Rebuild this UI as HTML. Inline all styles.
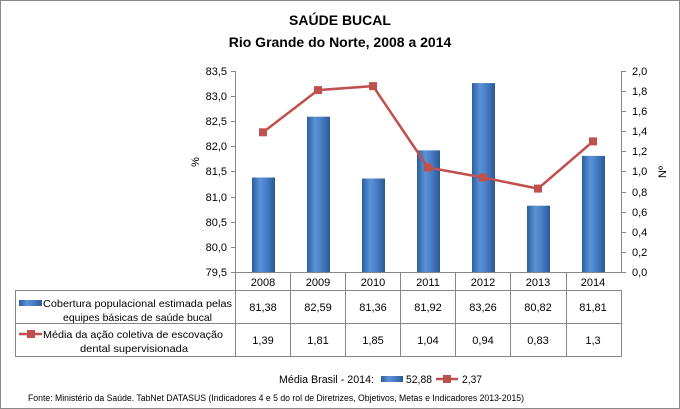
<!DOCTYPE html>
<html><head><meta charset="utf-8"><style>
body{margin:0;background:#fff}
svg{display:block;font-family:"Liberation Sans",sans-serif}
</style></head><body>
<svg width="680" height="409" viewBox="0 0 680 409">
<defs>
<linearGradient id="bg" x1="0" x2="1" y1="0" y2="0">
<stop offset="0" stop-color="#2c5f9e"/><stop offset="0.35" stop-color="#5b91d6"/><stop offset="0.6" stop-color="#4a80c8"/><stop offset="1" stop-color="#2a5a96"/>
</linearGradient>
</defs>
<rect x="0.5" y="0.5" width="679" height="408" fill="#fff" stroke="#888"/>
<text x="340" y="25" text-anchor="middle" font-size="14" font-weight="bold">SAÚDE BUCAL</text>
<text x="340" y="47" text-anchor="middle" font-size="14" font-weight="bold">Rio Grande do Norte, 2008 a 2014</text>
<g stroke="#868686" stroke-width="1" fill="none">
<line x1="235.5" y1="71" x2="235.5" y2="272"/>
<line x1="621.5" y1="71" x2="621.5" y2="272"/>
<line x1="235" y1="272.5" x2="622" y2="272.5"/>
<path d="M231 71.5h4M231 96.5h4M231 121.5h4M231 146.5h4M231 171.5h4M231 197.5h4M231 222.5h4M231 247.5h4M231 272.5h4"/>
<path d="M622 71.5h4M622 91.5h4M622 111.5h4M622 131.5h4M622 151.5h4M622 171.5h4M622 192.5h4M622 212.5h4M622 232.5h4M622 252.5h4M622 272.5h4"/>
</g>
<g font-size="11" text-anchor="end" fill="#000">
<text x="227" y="75">83,5</text><text x="227" y="100">83,0</text><text x="227" y="125">82,5</text><text x="227" y="150">82,0</text><text x="227" y="175">81,5</text><text x="227" y="201">81,0</text><text x="227" y="226">80,5</text><text x="227" y="251">80,0</text><text x="227" y="276">79,5</text>
</g>
<g font-size="11" fill="#000">
<text x="632" y="75">2,0</text><text x="632" y="95">1,8</text><text x="632" y="115">1,6</text><text x="632" y="135">1,4</text><text x="632" y="155">1,2</text><text x="632" y="175">1,0</text><text x="632" y="196">0,8</text><text x="632" y="216">0,6</text><text x="632" y="236">0,4</text><text x="632" y="256">0,2</text><text x="632" y="276">0,0</text>
</g>
<text transform="translate(199,162) rotate(-90)" font-size="11" text-anchor="middle">%</text>
<text transform="translate(666,172) rotate(-90)" font-size="11" text-anchor="middle">Nº</text>
<g fill="url(#bg)">
<rect x="252" y="177.5" width="23" height="94.5"/>
<rect x="307" y="116.7" width="23" height="155.3"/>
<rect x="362" y="178.5" width="23" height="93.5"/>
<rect x="417" y="150.4" width="23" height="121.6"/>
<rect x="472" y="83.1" width="23" height="188.9"/>
<rect x="527" y="205.7" width="23" height="66.3"/>
<rect x="582" y="155.9" width="23" height="116.1"/>
</g>
<polyline points="263,132.3 318,90.1 373,86.1 428,167.5 483,177.5 538,188.6 593,141.4" fill="none" stroke="#c0504d" stroke-width="2.5"/>
<g fill="#c0504d">
<rect x="259" y="128.3" width="8" height="8"/><rect x="314" y="86.1" width="8" height="8"/><rect x="369" y="82.1" width="8" height="8"/><rect x="424" y="163.5" width="8" height="8"/><rect x="479" y="173.5" width="8" height="8"/><rect x="534" y="184.6" width="8" height="8"/><rect x="589" y="137.4" width="8" height="8"/>
</g>
<g stroke="#868686" fill="none">
<rect x="15.5" y="290.5" width="606" height="66"/>
<line x1="15" y1="323.5" x2="622" y2="323.5"/>
<path d="M235.5 272v85M290.5 272v85M345.5 272v85M400.5 272v85M455.5 272v85M510.5 272v85M566.5 272v85"/>
</g>
<g font-size="11" text-anchor="middle">
<text x="263" y="286">2008</text><text x="318" y="286">2009</text><text x="373" y="286">2010</text><text x="428" y="286">2011</text><text x="483" y="286">2012</text><text x="538" y="286">2013</text><text x="593" y="286">2014</text>
<text x="263" y="311">81,38</text><text x="318" y="311">82,59</text><text x="373" y="311">81,36</text><text x="428" y="311">81,92</text><text x="483" y="311">83,26</text><text x="538" y="311">80,82</text><text x="593" y="311">81,81</text>
<text x="263" y="344">1,39</text><text x="318" y="344">1,81</text><text x="373" y="344">1,85</text><text x="428" y="344">1,04</text><text x="483" y="344">0,94</text><text x="538" y="344">0,83</text><text x="593" y="344">1,3</text>
</g>
<rect x="19" y="300" width="23" height="6" fill="url(#bg)"/>
<g font-size="10.5">
<text x="43" y="307" textLength="189" lengthAdjust="spacingAndGlyphs">Cobertura populacional estimada pelas</text>
<text x="63" y="321" textLength="149" lengthAdjust="spacingAndGlyphs">equipes básicas de saúde bucal</text>
<text x="43" y="338" textLength="180" lengthAdjust="spacingAndGlyphs">Média da ação coletiva de escovação</text>
<text x="80" y="352" textLength="108" lengthAdjust="spacingAndGlyphs">dental supervisionada</text>
</g>
<line x1="19" y1="334" x2="42" y2="334" stroke="#c0504d" stroke-width="2.5"/>
<rect x="27" y="330" width="8" height="8" fill="#c0504d"/>
<g font-size="11">
<text x="279" y="383" textLength="95" lengthAdjust="spacingAndGlyphs">Média Brasil - 2014:</text>
<rect x="381" y="376" width="22" height="6" fill="url(#bg)"/>
<text x="406" y="383" textLength="26" lengthAdjust="spacingAndGlyphs">52,88</text>
<line x1="436" y1="379" x2="458" y2="379" stroke="#c0504d" stroke-width="2.5"/>
<rect x="443" y="375" width="8" height="8" fill="#c0504d"/>
<text x="462" y="383" textLength="20" lengthAdjust="spacingAndGlyphs">2,37</text>
</g>
<text x="28" y="401" font-size="9" textLength="496" lengthAdjust="spacingAndGlyphs">Fonte: Ministério da Saúde. TabNet DATASUS (Indicadores 4 e 5 do rol de Diretrizes, Objetivos, Metas e Indicadores 2013-2015)</text>
</svg>
</body></html>
